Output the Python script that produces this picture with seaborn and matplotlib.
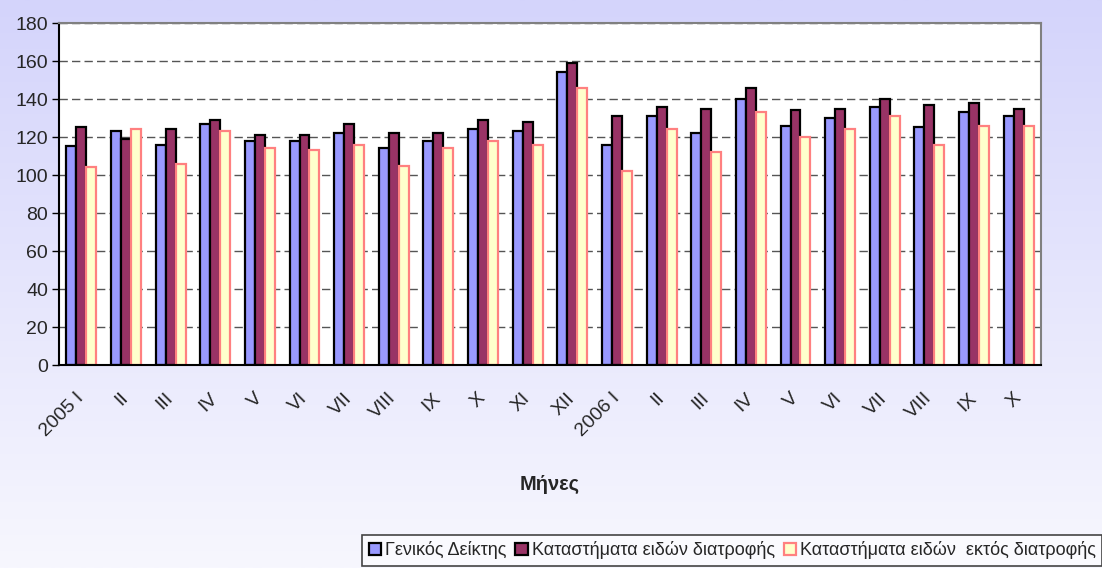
import numpy as np
import pandas as pd
import matplotlib
matplotlib.use("Agg")
import matplotlib.pyplot as plt
import matplotlib.transforms as mtransforms
import seaborn as sns
from matplotlib.patches import Patch
from matplotlib.colors import LinearSegmentedColormap

# ---- data ----
months = ["2005 I", "II", "III", "IV", "V", "VI", "VII", "VIII", "IX", "X", "XI", "XII",
          "2006 I", "II", "III", "IV", "V", "VI", "VII", "VIII", "IX", "X"]
series_names = ["Γενικός Δείκτης",
                "Καταστήματα ειδών διατροφής",
                "Καταστήματα ειδών  εκτός διατροφής"]
general = [115, 123, 116, 127, 118, 118, 122, 114, 118, 124, 123, 154,
           116, 131, 122, 140, 126, 130, 136, 125, 133, 131]
food = [125, 119, 124, 129, 121, 121, 127, 122, 122, 129, 128, 159,
        131, 136, 135, 146, 134, 135, 140, 137, 138, 135]
nonfood = [104, 124, 106, 123, 114, 113, 116, 105, 114, 118, 116, 146,
           102, 124, 112, 133, 120, 124, 131, 116, 126, 126]
yticks = [0, 20, 40, 60, 80, 100, 120, 140, 160, 180]

fill_colors = ["#9999FF", "#993366", "#FFFFCC"]
edge_colors = ["#000000", "#000000", "#FF8080"]

keys = [f"{i:02d}" for i in range(len(months))]
df = pd.DataFrame({
    "key": keys * 3,
    "value": general + food + nonfood,
    "series": np.repeat(series_names, len(months)),
})

sns.set_style("white")
plt.rcParams["font.family"] = ["Liberation Sans", "DejaVu Sans"]

W, H = 1102, 568
fig = plt.figure(figsize=(W / 100, H / 100), dpi=100)

# gradient background
bg = fig.add_axes([0, 0, 1, 1], zorder=-10)
cmap = LinearSegmentedColormap.from_list("bg", ["#F7F7FE", "#D4D4FB"])
grad = np.linspace(0, 1, 256).reshape(-1, 1)
bg.imshow(grad, aspect="auto", cmap=cmap, origin="lower", extent=[0, 1, 0, 1])
bg.axis("off")

left, right, top, bottom = 59, 1041, 23, 365
ax = fig.add_axes([left / W, 1 - bottom / H, (right - left) / W, (bottom - top) / H])
ax.set_facecolor("white")

sns.barplot(data=df, x="key", y="value", hue="series", palette=fill_colors,
            width=0.67, ax=ax, legend=False, saturation=1)

for cont, ec in zip(ax.containers, edge_colors):
    for p in cont:
        p.set_edgecolor(ec)
        p.set_linewidth(1.6)

ax.set_xlim(-0.5, len(months) - 0.5)
ax.set_ylim(0, 180)
ax.set_yticks(yticks)
ax.set_yticklabels([str(v) for v in yticks], fontsize=14)
ax.set_xticks(range(len(months)))
ax.set_xticklabels(months, fontsize=14, rotation=45, ha="right",
                   rotation_mode="anchor", va="center")
shift = mtransforms.ScaledTranslation(-6 / 100, 0, fig.dpi_scale_trans)
for lbl in ax.get_xticklabels():
    lbl.set_transform(lbl.get_transform() + shift)
ax.set_xticks(np.arange(-0.5, len(months), 1), minor=True)
ax.tick_params(axis="x", which="major", length=0, pad=22)
ax.tick_params(axis="x", which="minor", length=5, width=1, color="black", direction="out")
ax.tick_params(axis="y", length=5, width=1, color="black", direction="out", pad=3, left=True)
ax.set_xlabel("")
ax.set_ylabel("")

ax.set_axisbelow(True)
ax.yaxis.grid(True, linestyle=(0, (6, 3)), color="#555555", linewidth=1)
ax.xaxis.grid(False)

for s in ["left", "bottom"]:
    ax.spines[s].set_color("black")
    ax.spines[s].set_linewidth(1.5)
for s in ["top", "right"]:
    ax.spines[s].set_color("#808080")
    ax.spines[s].set_linewidth(1.5)

fig.text(550 / W, 1 - 484 / H, "Μήνες", fontsize=14.5, fontweight="bold",
         ha="center", va="center")

handles = [Patch(facecolor=fc, edgecolor=ec, linewidth=1.6)
           for fc, ec in zip(fill_colors, edge_colors)]
leg = fig.legend(handles, series_names, loc="upper right",
                 bbox_to_anchor=(1.0, 1 - 535 / H), ncol=3, fontsize=13,
                 frameon=True, fancybox=False, edgecolor="#444444",
                 facecolor="#FAFAFE", framealpha=1, handlelength=0.7,
                 handleheight=0.7, handletextpad=0.2, columnspacing=0.5,
                 borderpad=0.35, borderaxespad=0.0)
leg.get_frame().set_linewidth(1.2)

fig.savefig("out.png", dpi=100)
